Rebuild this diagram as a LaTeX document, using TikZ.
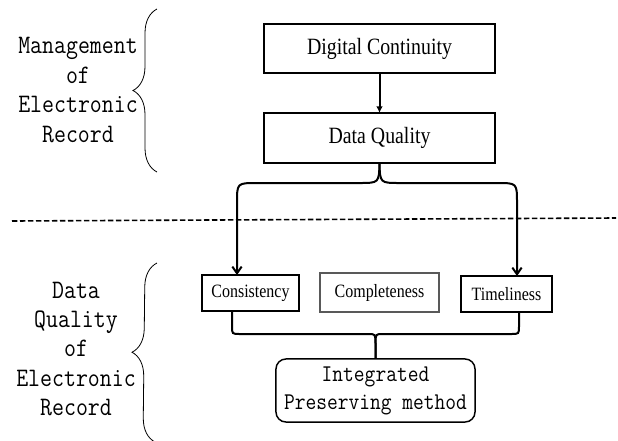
\documentclass[tikz,border=0pt]{standalone}
\usepackage{fontspec}
\usetikzlibrary{arrows.meta,decorations.pathreplacing}
\newfontfamily\boxfont[FakeStretch=0.85]{Liberation Serif}
\newfontfamily\labelfont[FakeStretch=0.87]{Latin Modern Mono}
\begin{document}
\begin{tikzpicture}[x=0.75pt,y=-0.75pt,
  box/.style={draw,line width=1.1pt,inner sep=0pt,outer sep=0pt},
  bigtext/.style={font=\boxfont\fontsize{17.5pt}{20pt}\selectfont},
  smalltext/.style={font=\boxfont\fontsize{14.1pt}{16pt}\selectfont},
  sidelabel/.style={align=center,font=\labelfont\fontsize{20pt}{22.1pt}\selectfont},
  sidebrace/.style={decorate,decoration={brace,amplitude=18pt},line width=0.6pt},
  branch/.style={line width=1.5pt}]
\useasboundingbox (0,0) rectangle (618,440);

\node[sidelabel] (mer) at (78,90) {Management\\of\\Electronic\\Record};
\node[sidelabel] (dqer) at (76,349) {Data\\Quality\\of\\Electronic\\Record};
\draw[sidebrace] (157,172) -- (157,9);
\draw[sidebrace] (155,442) -- (157,263);

\node[box,bigtext,minimum width=173.3pt,minimum height=36.8pt] (dc) at (379.5,48.5) {Digital Continuity};
\node[box,bigtext,minimum width=173.3pt,minimum height=37.5pt] (dq) at (379.5,138) {Data Quality};
\draw[line width=1.5pt,-{Latex[length=5pt,width=5pt]}] (dc) -- (dq);

\draw[dashed,line width=1.2pt,dash pattern=on 4pt off 2pt] (12,221) -- (616,218);

\node[box,smalltext,minimum width=72.8pt,minimum height=27pt] (cons) at (250.5,293) {Consistency};
\node[box,smalltext,draw=black!65,minimum width=89.3pt,minimum height=29.3pt] (comp) at (379.5,292.5) {Completeness};
\node[box,smalltext,minimum width=68.3pt,minimum height=27pt] (time) at (506.5,294) {Timeliness};
\node[box,rounded corners=7.5pt,align=center,font=\labelfont\fontsize{18pt}{21pt}\selectfont,
  minimum width=149.3pt,minimum height=47.3pt] (ipm) at (375.5,390.5) {Integrated\\Preserving method};

\coordinate (cl) at (237,183);
\coordinate (cr) at (517,183);
\draw[branch,-{Straight Barb[length=5pt,width=7pt]}] (dq.south) .. controls (379,183) .. (359,183)
  -- (257,183) .. controls (cl) .. (237,203) -- (cl |- cons.north);
\draw[branch,-{Straight Barb[length=5pt,width=7pt]}] (dq.south) .. controls (380,183) .. (400,183)
  -- (497,183) .. controls (cr) .. (517,203) -- (cr |- time.north);

\coordinate (bl) at (232,334);
\coordinate (br) at (519,334);
\draw[branch] (bl |- cons.south) -- (232,326) .. controls (bl) .. (240,334) -- (368,334)
  .. controls (375.5,334) .. (375.5,344) -- (ipm.north);
\draw[branch] (br |- time.south) -- (519,326) .. controls (br) .. (511,334) -- (383,334)
  .. controls (375.5,334) .. (375.5,344) -- (ipm.north);
\end{tikzpicture}
\end{document}
